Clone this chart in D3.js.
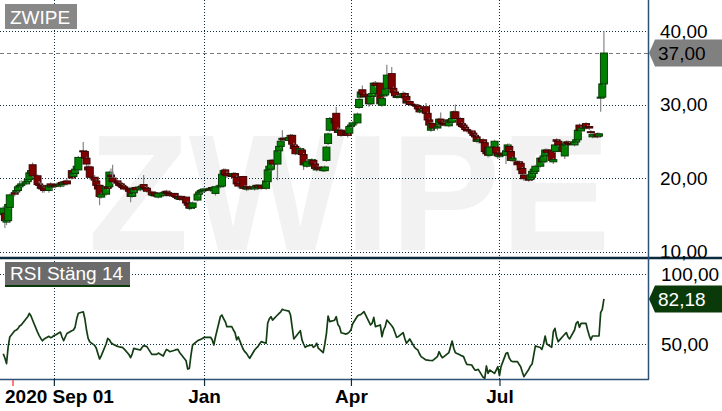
<!DOCTYPE html>
<html>
<head>
<meta charset="utf-8">
<script src="https://cdn.jsdelivr.net/npm/d3@7"></script>
<style>
  body { margin: 0; background: #fff; }
  svg { display: block; font-family: "Liberation Sans", Arial, sans-serif; }
</style>
</head>
<body>
<div class="canvas"></div>
<script>
// daily candles, one row per trading week (Mon..Fri)
const opens = [
  15.0,15.2,14.0,14.2,16.0, 18.0,18.1,18.3,18.8,19.0, 19.2,19.5,19.8,20.6,21.8,
  20.3,19.2,19.0,18.8,18.6, 18.3,19.2,18.8,18.9,19.1, 18.9,19.4,19.1,19.5,19.6,
  21.0,20.2,20.6,21.2,21.1, 23.7,23.6,22.7,21.5,21.5, 20.1,19.6,19.0,19.0,17.4,
  17.8,18.8,18.8,20.4,20.0, 19.6,19.3,19.2,19.0,18.8, 18.6,18.4,17.5,18.0,18.7,
  18.4,18.6,19.1,18.7,18.6, 18.1,17.6,18.0,17.7,17.4, 17.6,17.9,18.2,18.0,17.9,
  17.9,17.5,17.5,17.1,17.5, 17.4,16.6,16.5,16.0,16.0, 17.0,17.8,18.1,18.2,18.3,
  18.5,18.4,18.7,18.3,17.9, 18.8,18.9,20.6,21.1,20.6, 20.4,20.3,20.6,20.1,19.3,
  20.2,18.6,18.8,18.5,18.8, 18.5,18.8,19.0,18.7,19.0, 18.6,19.5,21.1,21.2,22.4,
  21.9,23.7,24.3,25.2,25.4, 25.1,25.4,25.8,24.5,24.3, 23.3,23.8,23.2,21.8,21.6,
  21.9,22.4,21.9,21.1,21.5, 21.0,21.0,22.4,24.7,26.5, 28.1,28.8,26.5,26.2,26.5,
  26.3,26.1,26.1,27.0,27.2, 27.5,29.6,31.0,32.0,31.4, 31.1,30.1,31.1,31.5,32.9,
  32.9,29.9,31.2,31.3,32.2, 34.2,32.2,31.7,31.1,31.0, 31.1,31.5,31.1,30.3,30.4,
  30.0,29.9,29.8,29.4,29.0, 29.7,28.8,27.9,26.5,27.4, 26.8,27.2,28.0,27.6,27.4,
  27.1,27.9,27.6,28.1,29.0, 28.1,27.4,27.2,26.9,26.6, 26.4,26.1,25.8,25.6,25.0,
  25.2,24.8,23.6,24.2,23.1, 24.2,24.2,23.4,22.9,23.3, 23.1,23.6,24.3,23.6,22.4,
  22.2,22.2,22.0,21.3,20.4, 19.9,19.8,20.1,20.6,20.9, 21.6,22.7,22.2,23.0,23.8,
  23.8,22.2,23.6,25.2,25.0, 24.6,23.0,24.5,24.9,24.7, 24.5,24.9,25.2,27.2,26.4,
  27.4,26.9,27.0,26.3,25.6, 26.0,25.7,30.95,31.0,32.8
];
const highs = [
  16.2,15.6,14.9,16.6,17.9, 18.2,18.5,19.0,19.6,19.7, 19.8,20.1,20.9,21.4,22.1,
  20.5,19.6,19.4,19.0,18.8, 19.2,19.4,19.1,19.3,19.3, 19.6,19.6,19.6,19.7,19.9,
  21.2,20.9,21.4,21.9,23.0, 24.9,23.8,22.9,21.8,21.7, 20.4,19.8,19.2,19.1,18.0,
  19.0,19.0,21.0,21.3,21.8, 19.8,19.5,19.4,19.2,19.0, 18.8,18.5,18.1,18.8,18.9,
  19.0,19.1,20.4,18.9,18.8, 18.3,18.0,18.2,17.9,18.1, 18.2,18.3,18.4,18.2,18.0,
  18.0,17.7,17.6,17.5,17.6, 17.5,16.8,16.6,16.3,16.8, 18.0,18.3,18.5,18.6,18.7,
  18.7,18.8,18.9,18.9,19.0, 19.2,20.7,21.3,21.3,20.9, 20.7,20.8,20.8,20.3,19.5,
  20.3,19.0,19.0,18.9,19.0, 19.0,19.2,19.2,19.1,19.2, 19.8,21.3,21.9,22.6,22.6,
  23.9,24.6,25.5,26.5,25.6, 25.7,26.0,26.0,24.8,24.5, 24.2,24.0,23.4,22.2,22.6,
  22.7,22.6,22.1,21.6,21.7, 21.5,21.7,24.4,26.2,28.3, 28.4,29.7,26.9,26.8,26.7,
  26.5,26.3,27.2,27.4,27.7, 28.9,30.9,31.9,32.6,31.6, 31.3,31.3,31.9,33.1,33.2,
  33.0,31.0,31.5,32.3,35.4, 35.1,32.4,31.9,31.3,31.3, 31.8,31.7,31.3,30.6,30.6,
  30.2,30.1,30.0,29.6,29.4, 30.2,29.0,28.1,27.6,27.6, 27.2,28.2,28.9,27.8,27.6,
  28.1,28.1,28.3,29.2,30.0, 28.3,27.6,27.4,27.1,26.8, 26.6,26.3,26.0,25.8,25.4,
  25.4,25.0,23.8,24.4,24.4, 25.2,24.4,23.6,23.4,23.5, 23.9,24.7,24.7,23.8,22.9,
  22.4,22.4,22.2,21.5,20.6, 20.1,20.6,21.1,21.4,21.8, 22.9,22.9,23.2,24.0,24.0,
  24.0,22.7,24.7,25.4,25.2, 24.8,24.7,25.1,25.1,24.9, 25.1,25.4,26.7,27.4,27.0,
  27.6,27.2,27.2,26.5,26.1, 26.2,26.2,31.2,33.0,40.0
];
const lows = [
  14.6,13.2,13.6,14.0,15.8, 17.5,17.9,18.1,18.6,18.8, 19.0,19.3,19.6,20.4,20.1,
  18.9,18.5,18.4,18.0,18.0, 18.0,18.6,18.2,18.7,18.6, 18.7,18.9,18.9,19.1,19.0,
  19.8,20.0,20.4,21.0,20.9, 23.2,22.5,21.6,20.8,19.8, 19.5,18.8,18.2,16.3,17.2,
  17.6,18.3,18.6,19.9,19.2, 19.1,18.8,18.7,18.5,18.3, 18.0,16.7,17.3,17.8,18.2,
  18.2,18.4,18.5,18.3,18.0, 17.5,17.4,17.4,17.4,17.2, 17.4,17.7,17.8,17.6,17.4,
  17.3,17.2,17.0,16.9,16.9, 16.4,16.0,15.6,15.7,15.8, 16.8,17.5,17.9,18.0,18.1,
  18.2,18.1,18.3,18.1,17.6, 18.6,18.7,20.3,20.2,20.0, 19.9,20.1,19.9,19.0,18.6,
  18.4,18.4,18.2,18.3,18.4, 18.3,18.6,18.4,18.5,18.4, 18.4,19.3,20.9,21.0,21.6,
  19.7,23.5,24.1,25.0,25.0, 24.9,25.2,24.4,23.8,23.1, 23.1,23.0,21.1,21.6,21.4,
  21.7,21.7,21.1,20.9,21.0, 20.8,20.8,22.2,24.5,26.3, 27.2,26.3,25.9,26.0,25.6,
  25.7,25.5,25.9,26.8,27.0, 27.3,29.4,30.8,31.2,30.9, 29.7,29.9,30.9,31.3,32.3,
  29.8,29.7,31.0,31.1,32.0, 32.0,31.4,31.0,30.8,30.8, 30.9,30.7,30.0,30.1,29.8,
  29.7,29.5,29.2,28.8,28.8, 28.6,27.7,27.0,26.3,26.5, 26.5,27.0,27.4,27.2,27.0,
  26.9,27.4,27.4,27.9,27.9, 27.0,26.8,26.7,26.4,26.2, 25.9,25.5,25.4,24.8,24.7,
  24.6,23.4,23.0,22.8,22.9, 24.0,23.2,22.6,22.7,22.9, 21.9,23.4,23.4,22.2,22.2,
  21.6,21.8,20.9,20.4,19.6, 19.5,19.6,19.9,20.4,20.7, 21.4,22.0,22.0,22.8,23.3,
  22.2,21.9,23.4,24.8,24.3, 23.4,22.6,24.3,24.5,24.4, 24.3,24.7,25.0,26.3,26.2,
  26.6,26.7,26.5,25.6,25.4, 25.4,25.5,29.0,30.8,32.6
];
const closes = [
  15.9,14.2,14.4,16.4,17.7, 17.8,18.3,18.8,19.0,19.2, 19.5,19.8,20.7,21.0,20.3,
  19.1,19.0,18.6,18.5,18.3, 19.0,18.8,18.9,19.0,18.9, 19.3,19.1,19.4,19.3,19.2,
  20.0,20.7,21.2,21.6,22.8, 23.6,22.7,21.9,21.1,20.1, 19.7,19.0,18.5,17.5,17.8,
  18.8,18.6,20.8,20.2,19.5, 19.3,19.0,18.9,18.7,18.5, 18.2,17.5,17.9,18.6,18.4,
  18.8,18.9,18.7,18.5,18.2, 17.7,17.8,17.6,17.6,17.9, 18.0,18.1,18.0,17.8,17.6,
  17.5,17.4,17.2,17.3,17.1, 16.6,16.3,15.9,16.0,16.6, 17.8,18.1,18.3,18.4,18.5,
  18.4,18.6,18.5,18.7,18.8, 19.0,20.5,21.0,20.4,20.3, 20.2,20.6,20.1,19.2,18.9,
  18.6,18.8,18.5,18.7,18.6, 18.8,19.0,18.7,18.9,18.6, 19.6,21.1,21.6,22.4,21.9,
  23.7,24.3,25.0,25.4,25.2, 25.5,25.8,24.6,24.0,23.3, 24.0,23.2,21.8,22.0,22.2,
  22.5,21.9,21.3,21.4,21.2, 21.3,21.5,24.2,26.0,28.1, 27.5,26.5,26.2,26.5,25.8,
  25.9,25.8,27.0,27.2,27.5, 28.7,30.7,31.7,31.4,31.1, 30.1,31.1,31.5,32.9,32.6,
  30.1,30.8,31.3,32.1,34.0, 32.2,31.6,31.2,31.0,31.1, 31.5,30.9,30.2,30.4,30.0,
  29.9,29.8,29.4,29.0,29.2, 28.8,27.9,27.2,27.4,26.8, 27.0,28.0,27.6,27.4,27.2,
  27.9,27.6,28.1,29.0,28.1, 27.2,27.0,26.9,26.6,26.4, 26.1,25.8,25.6,25.0,25.2,
  24.8,23.6,23.3,23.1,24.2, 25.0,23.4,23.0,23.2,23.1, 23.7,24.5,23.6,22.4,22.7,
  21.8,22.0,21.1,20.6,19.9, 19.7,20.4,20.9,21.2,21.6, 22.7,22.2,23.0,23.8,23.5,
  22.4,22.5,24.5,25.0,24.5, 23.6,24.5,24.9,24.7,24.6, 24.9,25.2,26.5,26.5,26.8,
  26.8,27.0,26.8,26.2,25.9, 25.6,26.0,31.0,32.8,37.0
];
const rsi = [
  43,40,36,48,55, 59.5,60,61,62.8,63.5, 68,69.5,71.9,70,67,
  58.5,56,54,52.3,53.5, 55.5,54.5,55,56,56.4, 58.5,55,52.3,55,57.5,
  59.5,60,62,68,72, 73,68,60,54,51.5, 49,47,43,39.3,41.5,
  50,54,53,51,50, 48.3,48,47.8,47.6,46.5, 42.5,40.2,43,46.9,46.5,
  45.7,47.5,48.8,48.5,48.1, 42.6,42.6,42.6,42.6,43.5, 41.4,44,46.1,45.5,44.5,
  45.5,46,46.1,44,42.5, 38,32.1,32.5,42,49.3, 52.3,52.8,53.3,54,54.7,
  54.7,54.8,53,49.3,55, 69.5,70.7,68,66,62.4, 62.4,60,58,53,55,
  46.2,44.5,43.3,41.5,39.8, 45.7,47,48.1,50,51.7, 50.5,64.8,68,69.5,67.1,
  70.7,71.9,73,74.8,74.3, 73.5,70.7,62,53.6,55, 59.5,52.9,50,47.6,48.5,
  49.3,47.6,48.5,50.5,47, 43.8,50,57.6,70,66, 67,69.5,64,62.4,58,
  57.1,57.6,58.5,60,64.3, 70,70.7,71,72,73.1, 66,63.6,64.8,69,62.4,
  63.6,55.2,60,62.4,67.1, 63,61.2,58,54.8,55.2, 58.1,54,50.5,52,53.6,
  47.6,46.5,45.7,43,41, 38.6,38.5,38.3,38.2,38.1, 41,44.5,42,40.2,41,
  43.8,48,52.1,47,43.8, 42.1,41.5,41,38,35.5, 35,33,31.4,31.4,31.9,
  26.2,25.5,34.3,29,31.4, 29,31.4,33.8,27.4,34, 43.3,43.8,40,38.1,37.4,
  37.4,35.5,33.8,30,26.7, 32,34.3,35.7,42,48.6, 47.5,46.2,50,55.7,50,
  47.6,58.8,61.2,55,51.7, 55.7,57,58.1,55,53.6, 60,64.8,66,61.9,64.8,
  64.8,60,56,52.9,55.7, 55.7,55.7,72.4,74.8,82.18
];

const priceTicks = [10, 20, 30, 40];
const rsiTicks = [50, 100];
const monthTicks = [new Date(2020, 9, 1), new Date(2021, 0, 1), new Date(2021, 3, 1), new Date(2021, 6, 1)];
const monthLabels = ['', 'Jan', 'Apr', 'Jul'];
const lastPrice = 37.00;
const lastRsi = 82.18;

const width = 722, height = 411;
const plotRight = 648, priceBottom = 258, rsiBottom = 379;

// weekdays from Mon 31 Aug 2020 to Fri 3 Sep 2021
const days = d3.timeDay.range(new Date(2020, 7, 31), new Date(2021, 8, 4))
  .filter(d => d.getDay() !== 0 && d.getDay() !== 6);

const data = days.map((d, i) => ({
  date: d, open: opens[i], high: highs[i], low: lows[i], close: closes[i], rsi: rsi[i]
}));

const svg = d3.select('.canvas')
  .append('svg')
  .attr('width', width)
  .attr('height', height);

svg.append('rect').attr('width', width).attr('height', height).attr('fill', '#fff');

//scales
const x = d3.scaleTime()
  .domain([new Date(2020, 7, 29), new Date(2021, 8, 30)])
  .range([0, plotRight]);
const y = d3.scaleLinear().domain([10, 40]).range([251.5, 31]);
const yr = d3.scaleLinear().domain([50, 100]).range([344, 274]);

const sv = d3.formatLocale({ decimal: ',', thousands: ' ', grouping: [3], currency: ['', ''] });
const fmt = sv.format('.2f');

// watermark
svg.append('text')
  .attr('x', 88)
  .attr('y', 250)
  .attr('font-size', 165)
  .attr('font-weight', 'bold')
  .attr('fill', '#f2f2f2')
  .text('ZWIPE');

// grid
const grid = svg.append('g')
  .attr('stroke', '#0b2d40')
  .attr('stroke-width', 1)
  .attr('stroke-dasharray', '1,2');

grid.selectAll('.hp').data(priceTicks).enter().append('line')
  .attr('x1', 0).attr('x2', plotRight)
  .attr('y1', d => Math.round(y(d)) + 0.5).attr('y2', d => Math.round(y(d)) + 0.5);

grid.selectAll('.hr').data(rsiTicks).enter().append('line')
  .attr('x1', 0).attr('x2', plotRight)
  .attr('y1', d => Math.round(yr(d)) + 0.5).attr('y2', d => Math.round(yr(d)) + 0.5);

grid.selectAll('.v').data(monthTicks).enter().append('line')
  .attr('x1', d => Math.round(x(d)) + 0.5).attr('x2', d => Math.round(x(d)) + 0.5)
  .attr('y1', 0).attr('y2', rsiBottom);

// last price dashed line
svg.append('line')
  .attr('x1', 0).attr('x2', plotRight)
  .attr('y1', Math.round(y(lastPrice)) + 0.5).attr('y2', Math.round(y(lastPrice)) + 0.5)
  .attr('stroke', '#7a7a7a')
  .attr('stroke-dasharray', '4,3');

// candles
const candles = svg.append('g');
const candle = candles.selectAll('g').data(data).enter().append('g');

candle.append('line')
  .attr('x1', d => x(d.date)).attr('x2', d => x(d.date))
  .attr('y1', d => y(d.high)).attr('y2', d => y(d.low))
  .attr('stroke', '#858585')
  .attr('stroke-width', 1.2);

candle.append('rect')
  .attr('x', d => x(d.date) - 3.5)
  .attr('width', 7)
  .attr('y', d => y(Math.max(d.open, d.close)))
  .attr('height', d => Math.max(1, Math.abs(y(d.open) - y(d.close))))
  .attr('fill', d => d.close >= d.open ? '#008000' : '#800000')
  .attr('stroke', d => d.close >= d.open ? '#053d05' : '#3d0505')
  .attr('stroke-width', 1);

// rsi line
svg.append('defs').append('clipPath').attr('id', 'rsiclip')
  .append('rect').attr('x', 0).attr('y', priceBottom).attr('width', plotRight).attr('height', rsiBottom - priceBottom);

const line = d3.line()
  .x(d => x(d.date))
  .y(d => yr(d.rsi));

svg.append('path')
  .datum(data)
  .attr('clip-path', 'url(#rsiclip)')
  .attr('fill', 'none')
  .attr('stroke', '#133d13')
  .attr('stroke-width', 1.7)
  .attr('stroke-linejoin', 'round')
  .attr('d', line);

// frame
svg.append('line')
  .attr('x1', 0).attr('x2', width).attr('y1', priceBottom).attr('y2', priceBottom)
  .attr('stroke', '#0b2b3f').attr('stroke-width', 2.5);
svg.append('line')
  .attr('x1', plotRight + 0.5).attr('x2', plotRight + 0.5).attr('y1', 0).attr('y2', rsiBottom + 0.5)
  .attr('stroke', '#2e5275').attr('stroke-width', 1.5);
svg.append('line')
  .attr('x1', 0).attr('x2', plotRight + 1).attr('y1', rsiBottom + 0.5).attr('y2', rsiBottom + 0.5)
  .attr('stroke', '#2e5275').attr('stroke-width', 1.5);

// right axes
const yAxis = d3.axisRight(y).tickValues(priceTicks).tickSize(0).tickPadding(0).tickFormat(fmt);
const yAxisRsi = d3.axisRight(yr).tickValues(rsiTicks).tickSize(0).tickPadding(0).tickFormat(fmt);

[[yAxis, 660], [yAxisRsi, 661]].forEach(([ax, px]) => {
  const g = svg.append('g').attr('transform', `translate(${px},0)`).call(ax);
  g.select('.domain').remove();
  g.selectAll('text').attr('font-size', 19).attr('font-family', '"Liberation Sans", Arial, sans-serif')
    .attr('fill', '#000');
});

// value tags
const tag = (v, scale, fill, color) => {
  const cy = scale(v);
  const g = svg.append('g');
  g.append('path')
    .attr('d', `M${plotRight + 1},${cy} L${plotRight + 7},${cy - 13.5} L${width},${cy - 13.5} L${width},${cy + 13.5} L${plotRight + 7},${cy + 13.5} Z`)
    .attr('fill', fill);
  g.append('text')
    .attr('x', 658).attr('y', cy + 7)
    .attr('font-size', 19)
    .attr('fill', color)
    .text(fmt(v));
};
tag(lastPrice, y, '#808080', '#000');
tag(lastRsi, yr, '#0a3a0a', '#fff');

// bottom axis
const xAxis = d3.axisBottom(x)
  .tickValues(monthTicks)
  .tickSize(7)
  .tickPadding(4)
  .tickFormat((d, i) => monthLabels[i]);

const xg = svg.append('g').attr('transform', `translate(0,${rsiBottom})`).call(xAxis);
xg.select('.domain').remove();
xg.selectAll('line').attr('stroke', '#0b2d40').attr('stroke-width', 1.2);
xg.selectAll('text').attr('font-size', 19).attr('font-weight', 'bold')
  .attr('font-family', '"Liberation Sans", Arial, sans-serif').attr('fill', '#000');

svg.append('line')
  .attr('x1', 13).attr('x2', 13).attr('y1', rsiBottom + 1).attr('y2', rsiBottom + 7)
  .attr('stroke', '#ff4d4d').attr('stroke-width', 1.5);
svg.append('text')
  .attr('x', 5).attr('y', 403)
  .attr('font-size', 19).attr('font-weight', 'bold')
  .text('2020 Sep 01');

// panel labels
svg.append('rect').attr('x', 5).attr('y', 4).attr('width', 72).attr('height', 25).attr('fill', '#888');
svg.append('text').attr('x', 10).attr('y', 23.5).attr('font-size', 19).attr('fill', '#fff').text('ZWIPE');

svg.append('rect').attr('x', 5).attr('y', 262).attr('width', 125).attr('height', 25).attr('fill', '#6b6b6b');
svg.append('rect').attr('x', 5).attr('y', 285).attr('width', 125).attr('height', 2).attr('fill', '#0a3a0a');
svg.append('text').attr('x', 10).attr('y', 280).attr('font-size', 19).attr('fill', '#fff').text('RSI Stäng 14');
</script>
</body>
</html>
